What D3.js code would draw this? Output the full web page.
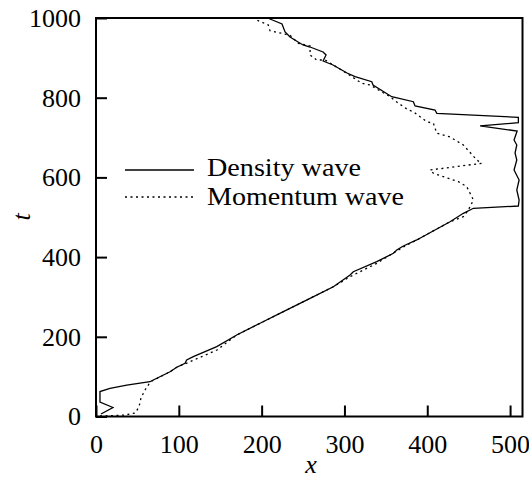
<!DOCTYPE html>
<html>
<head>
<meta charset="utf-8">
<script src="https://cdn.jsdelivr.net/npm/d3@7"></script>
<style>
  html, body { margin: 0; padding: 0; background: #fff; }
  svg { display: block; }
  text { font-family: "Liberation Serif", "DejaVu Serif", serif; fill: #000; }
</style>
</head>
<body>
<svg id="chart" width="529" height="491"></svg>
<script>
// Density wave (solid): x positions and times
const densityX = [6.0, 20.5, 4.8, 4.8, 16.9, 37.1, 65.2, 69.2, 89.4, 97.5, 107.5, 109.5, 117.5, 145.8, 169.9, 198.1, 226.2, 258.5, 286.6, 306.8, 310.7, 339.0, 359.1, 363.2, 371.1, 387.3, 427.5, 443.6, 455.7, 510.0, 510.9, 508.1, 510.9, 504.8, 508.1, 506.0, 508.1, 504.8, 508.5, 463.8, 510.0, 510.0, 411.5, 409.4, 385.3, 383.2, 357.1, 334.5, 333.0, 312.8, 303.1, 286.2, 274.2, 277.8, 274.2, 258.5, 250.0, 244.0, 234.3, 228.3, 224.6, 210.1, 207.5];
const densityT = [6.3, 22.6, 36.4, 62.7, 70.8, 79.0, 87.3, 91.6, 112.4, 123.5, 133.5, 141.8, 150.1, 175.2, 204.5, 233.9, 263.0, 296.6, 325.7, 355.1, 363.4, 388.5, 409.5, 417.8, 427.9, 443.0, 488.8, 509.9, 522.5, 528.2, 543.3, 568.4, 593.5, 618.6, 643.7, 661.2, 681.3, 693.9, 716.4, 729.1, 737.3, 750.8, 760.9, 769.1, 779.2, 790.0, 802.5, 831.9, 840.1, 852.7, 862.0, 882.1, 892.1, 907.2, 914.7, 927.2, 932.3, 939.8, 952.3, 964.9, 985.0, 997.5, 1000];

// Momentum wave (dotted)
const momentumX = [4.8, 22.9, 35.0, 47.1, 51.9, 54.3, 59.2, 64.0, 67.6, 89.4, 97.5, 113.5, 146.1, 169.9, 198.1, 226.2, 258.5, 286.6, 306.8, 339.0, 355.1, 371.1, 387.3, 427.5, 443.6, 449.6, 455.7, 447.7, 437.6, 407.4, 403.4, 465.8, 459.8, 443.6, 427.5, 411.5, 407.4, 399.4, 383.2, 377.2, 363.2, 355.1, 330.9, 320.9, 302.8, 276.6, 266.5, 258.5, 258.5, 244.3, 234.3, 224.3, 210.1, 208.1, 194.1, 191.0];
const momentumT = [1.3, 2.5, 3.8, 8.8, 23.8, 46.4, 66.5, 81.6, 89.1, 112.4, 123.5, 137.5, 166.9, 204.5, 233.9, 263.0, 296.6, 325.7, 350.8, 384.4, 405.3, 425.3, 443.0, 488.8, 501.4, 518.2, 543.3, 576.7, 589.2, 610.3, 618.6, 635.4, 643.7, 681.3, 701.4, 710.7, 735.8, 739.8, 764.9, 769.1, 789.2, 802.5, 831.9, 836.1, 861.2, 894.6, 894.6, 907.2, 929.8, 936.5, 956.6, 961.6, 968.1, 982.4, 995.0, 1000];

const xTicks = [0, 100, 200, 300, 400, 500];
const yTicks = [0, 200, 400, 600, 800, 1000];
const legendLabels = ["Density wave", "Momentum wave"];

const svg = d3.select("#chart");
const mLeft = 96, mRight = 522.5, mTop = 18, mBottom = 416.5;

const x = d3.scaleLinear().domain([0, 515]).range([mLeft, mRight]);
const y = d3.scaleLinear().domain([0, 1000]).range([mBottom, mTop]);

// Curves
const line = d3.line().x(d => x(d[0])).y(d => y(d[1]));
const densityData = densityX.map((v, i) => [v, densityT[i]]);
const momentumData = momentumX.map((v, i) => [v, momentumT[i]]);

svg.append("path").datum(momentumData)
  .attr("d", line).attr("fill", "none").attr("stroke", "#000")
  .attr("stroke-width", 1.3).attr("stroke-dasharray", "2,3.5");

svg.append("path").datum(densityData)
  .attr("d", line).attr("fill", "none").attr("stroke", "#000")
  .attr("stroke-width", 1.3).attr("stroke-linejoin", "miter");

// Axes (inward ticks)
const xAxis = d3.axisBottom(x).tickValues(xTicks).tickSize(-11).tickPadding(18).tickFormat(d3.format("d"));
const yAxis = d3.axisLeft(y).tickValues(yTicks).tickSize(-11).tickPadding(15).tickFormat(d3.format("d"));

const gx = svg.append("g").attr("transform", `translate(0,${mBottom})`).call(xAxis);
const gy = svg.append("g").attr("transform", `translate(${mLeft},0)`).call(yAxis);
[gx, gy].forEach(g => {
  g.select(".domain").remove();
  g.selectAll(".tick line").attr("stroke", "#000").attr("stroke-width", 2);
  g.selectAll(".tick text").attr("font-size", 26).attr("font-family", "Liberation Serif, serif").attr("fill", "#000");
});

// Frame
svg.append("rect").attr("x", mLeft).attr("y", mTop)
  .attr("width", mRight - mLeft).attr("height", mBottom - mTop)
  .attr("fill", "none").attr("stroke", "#000").attr("stroke-width", 2);

// Axis labels
svg.append("text").attr("x", 311).attr("y", 473)
  .attr("text-anchor", "middle").attr("font-size", 26).attr("font-style", "italic").text("x");
svg.append("text").attr("transform", "translate(30,217) rotate(-90)")
  .attr("text-anchor", "middle").attr("font-size", 26).attr("font-style", "italic").text("t");

// Legend
const legend = svg.append("g");
const legendY = [170, 197];
const legendBase = [176, 205];
const legendLen = [154, 197];
legendLabels.forEach((lab, i) => {
  legend.append("line").attr("x1", 125).attr("x2", 194)
    .attr("y1", legendY[i]).attr("y2", legendY[i])
    .attr("stroke", "#000").attr("stroke-width", 1.3)
    .attr("stroke-dasharray", i === 1 ? "2,3.5" : null);
  legend.append("text").attr("x", 207).attr("y", legendBase[i])
    .attr("font-size", 26).attr("textLength", legendLen[i]).attr("lengthAdjust", "spacingAndGlyphs")
    .text(lab);
});
</script>
</body>
</html>
